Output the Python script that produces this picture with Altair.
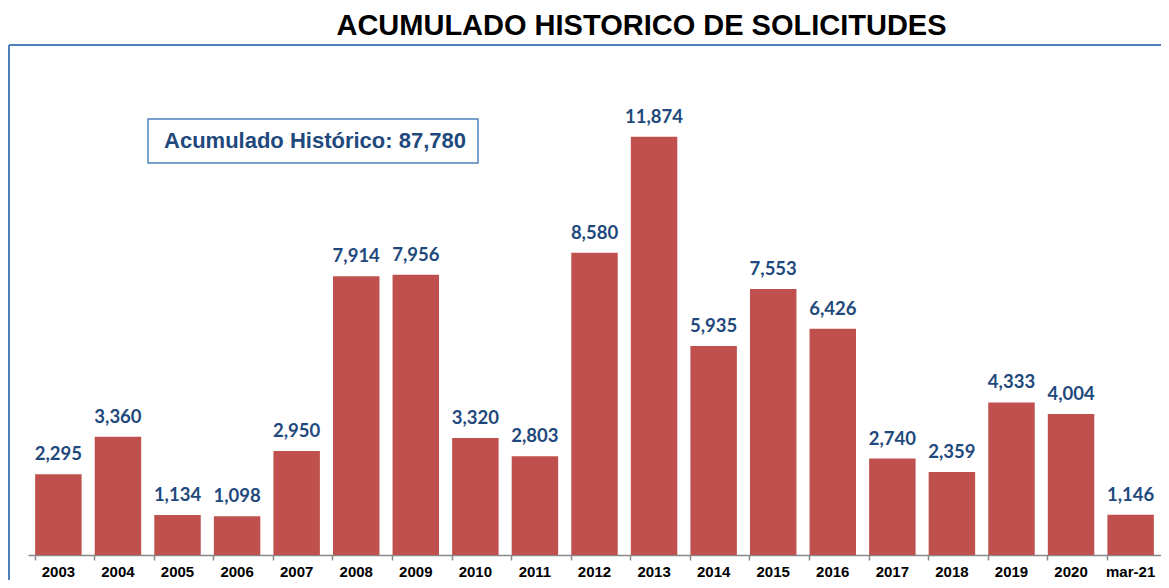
import altair as alt
import pandas as pd

categories = ["2003", "2004", "2005", "2006", "2007", "2008", "2009", "2010", "2011", "2012",
              "2013", "2014", "2015", "2016", "2017", "2018", "2019", "2020", "mar-21"]
values = [2295, 3360, 1134, 1098, 2950, 7914, 7956, 3320, 2803, 8580,
          11874, 5935, 7553, 6426, 2740, 2359, 4333, 4004, 1146]
labels = [f"{v:,}" for v in values]
total_text = "Acumulado Histórico: 87,780"

df = pd.DataFrame({"cat": categories, "val": values, "lab": labels})

W = 1133
H = 493

x = alt.X("cat:N", sort=categories, title=None,
          scale=alt.Scale(paddingInner=0.22, paddingOuter=0.12, round=False),
          axis=alt.Axis(labelAngle=0, labelFont="Liberation Sans", labelFontWeight="bold",
                        labelFontSize=15, labelColor="#000000", labelPadding=4,
                        domainColor="#888888", domainWidth=1.5, tickColor="#888888",
                        tickSize=5, tickWidth=1.5, bandPosition=0))
y = alt.Y("val:Q", title=None, scale=alt.Scale(domain=[0, 14000], nice=False),
          axis=None)

bars = alt.Chart(df).mark_bar(color="#C0504D").encode(x=x, y=y)
text = alt.Chart(df).mark_text(dy=-10, baseline="bottom", font="Lato", fontWeight="bold",
                               fontSize=18.5, color="#1F497D").encode(x=x, y=y, text="lab:N")

frame_v = alt.Chart(df).mark_rule(color="#4F81BD", strokeWidth=1.5).encode(
    x=alt.value(-19), y=alt.value(-17), y2=alt.value(650))
frame_h = alt.Chart(df).mark_rule(color="#4F81BD", strokeWidth=1.5).encode(
    x=alt.value(-19), x2=alt.value(1300), y=alt.value(-17))

box = alt.Chart(pd.DataFrame({"t": [total_text]})).mark_rect(
    fill="white", stroke="#4F81BD", strokeWidth=1.5).encode(
    x=alt.value(120), x2=alt.value(450), y=alt.value(57), y2=alt.value(101))
box_text = alt.Chart(pd.DataFrame({"t": [total_text]})).mark_text(
    font="Liberation Sans", fontWeight="bold", fontSize=22, color="#1F497D",
    align="center", baseline="middle").encode(
    x=alt.value(287), y=alt.value(79), text="t:N")

chart = alt.layer(frame_v, frame_h, bars, text, box, box_text).properties(
    width=W, height=H,
    title=alt.TitleParams("ACUMULADO HISTORICO DE SOLICITUDES", font="Liberation Sans",
                          fontSize=29, fontWeight="bold", color="#000000",
                          anchor="middle", dx=47, offset=3),
    autosize=alt.AutoSizeParams(type="none"),
    padding={"left": 20, "top": 54, "right": 0, "bottom": 25},
).configure_view(stroke=None)

chart.save("out.html", embed_options={"renderer": "svg", "actions": False})
